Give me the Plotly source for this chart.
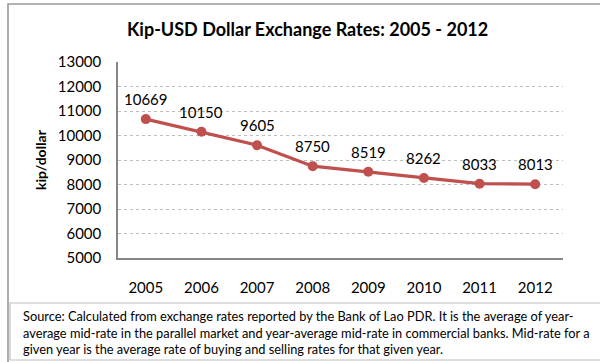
import plotly.graph_objects as go

# Kip per US dollar, yearly averages
years = ["2005", "2006", "2007", "2008", "2009", "2010", "2011", "2012"]
kip_per_usd = [10669, 10150, 9605, 8750, 8519, 8262, 8033, 8013]
y_ticks = [5000, 6000, 7000, 8000, 9000, 10000, 11000, 12000, 13000]
y_tick_labels = [str(t) for t in y_ticks]

title_text = "Kip-USD Dollar Exchange Rates: 2005 - 2012"
y_title = "kip/dollar"
source_text = (
    "Source: Calculated from exchange rates reported by the Bank of Lao PDR. It is the average of year-<br>"
    "average mid-rate in the parallel market and year-average mid-rate in commercial banks. Mid-rate for a<br>"
    "given year is the average rate of buying and selling rates for that given year."
)

W, H = 600, 362
PL, PR, PT, PB = 118, 563, 62, 258  # plot area in pixels

FONT = "Lato, 'Open Sans', sans-serif"
RED = "#C0504D"


def px(x):
    return (x - PL) / (PR - PL)


def py(y):
    return (PB - y) / (PB - PT)


fig = go.Figure()
fig.add_trace(
    go.Scatter(
        x=years,
        y=kip_per_usd,
        mode="lines+markers",
        line=dict(color=RED, width=3.2),
        marker=dict(color=RED, size=10, symbol="circle"),
        hoverinfo="x+y",
        showlegend=False,
    )
)

annotations = []
# value labels above each point (category positions by index)
for i, v in enumerate(kip_per_usd):
    annotations.append(
        dict(
            x=i, y=v, xref="x", yref="y", text=str(v), showarrow=False,
            yshift=20, font=dict(family=FONT, size=15, color="#000000"),
        )
    )

annotations.append(
    dict(
        x=px(307), y=py(29), xref="paper", yref="paper", text="<b>" + title_text + "</b>",
        showarrow=False, xanchor="center", yanchor="middle",
        font=dict(family=FONT, size=18, color="#000000"),
    )
)
annotations.append(
    dict(
        x=px(40), y=py(160), xref="paper", yref="paper", text="<b>" + y_title + "</b>",
        showarrow=False, textangle=-90, xanchor="center", yanchor="middle",
        font=dict(family=FONT, size=14, color="#000000"),
    )
)
annotations.append(
    dict(
        x=px(21), y=py(332), xref="paper", yref="paper", text=source_text,
        showarrow=False, xanchor="left", yanchor="middle", align="left",
        font=dict(family=FONT, size=12.8, color="#000000"),
    )
)

shapes = [
    # outer chart frame
    dict(type="rect", xref="paper", yref="paper",
         x0=px(8), x1=px(603), y0=py(4), y1=py(366),
         line=dict(color="#9A9A9A", width=1.6), layer="below"),
    # source note frame
    dict(type="rect", xref="paper", yref="paper",
         x0=px(10), x1=px(603), y0=py(303), y1=py(360),
         line=dict(color="#BFBFBF", width=1.2), layer="below"),
]

fig.update_layout(
    width=W, height=H,
    margin=dict(l=PL, r=W - PR, t=PT, b=H - PB, autoexpand=False),
    paper_bgcolor="white", plot_bgcolor="white",
    annotations=annotations, shapes=shapes,
    font=dict(family=FONT, size=15, color="#000000"),
)
fig.update_xaxes(
    type="category", range=[-0.5, 7.5],
    showline=True, linecolor="#868686", linewidth=1.5,
    showgrid=False, ticks="", ticklabelstandoff=15,
    tickfont=dict(family=FONT, size=15, color="#000000"),
)
fig.update_yaxes(
    range=[5000, 13000], tickvals=y_ticks, ticktext=y_tick_labels,
    showline=True, linecolor="#868686", linewidth=1.5,
    showgrid=True, gridcolor="#BDBDBD", gridwidth=1, griddash="dot",
    zeroline=False, ticks="", ticklabelstandoff=12,
    tickfont=dict(family=FONT, size=15, color="#000000"),
)

fig.write_html("out.html")
